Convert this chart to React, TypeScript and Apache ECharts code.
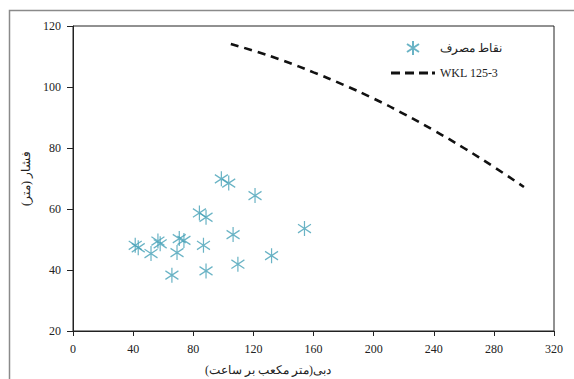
import React, { useEffect, useRef } from "react";
import * as echarts from "echarts";

const pointsX = [41.4, 43.4, 51.9, 56.5, 58, 65.8, 69.2, 70.7, 73.8, 84.1, 86.8, 88.5, 88.5, 98.7, 103.6, 106.5, 109.7, 121.1, 132.1, 154];
const pointsY = [48.1, 47.3, 45.4, 49.5, 48.6, 38.3, 45.7, 50.3, 49.7, 58.7, 48.1, 57.3, 39.7, 69.9, 68.5, 51.6, 41.9, 64.4, 44.7, 53.6];

const curveX = [105, 120, 140, 160, 180, 200, 220, 240, 260, 280, 300];
const curveY = [114.1, 111.9, 108.6, 104.8, 100.7, 96.2, 91.2, 85.8, 80.0, 73.8, 67.2];

const xTicks = [0, 40, 80, 120, 160, 200, 240, 280, 320];
const yTicks = [20, 40, 60, 80, 100, 120];

const seriesNames = ["نقاط مصرف", "WKL 125-3"];
const xTitle = "دبی(متر مکعب بر ساعت)";
const yTitle = "فشار (متر)";

const STAR = "path://M0,-7 L0,7 M-6,-4 L6,4 M-6,4 L6,-4";
const DASHES = "path://M0,0 h9 v3 h-9 z M14,0 h9 v3 h-9 z M28,0 h9 v3 h-9 z M41,0 h3 v3 h-3 z";
const FONT = "Liberation Serif";

export default function App() {
  const ref = useRef<HTMLDivElement>(null);
  useEffect(() => {
    if (!ref.current) return;
    const chart = echarts.init(ref.current, undefined, { renderer: "svg" });
    chart.setOption({
      animation: false,
      backgroundColor: "#fff",
      textStyle: { fontFamily: FONT },
      grid: {
        left: 73,
        right: 20,
        top: 26,
        bottom: 48,
        show: true,
        borderColor: "#222",
        borderWidth: 1,
      },
      xAxis: {
        type: "value",
        min: xTicks[0],
        max: xTicks[xTicks.length - 1],
        interval: 40,
        axisLine: { lineStyle: { color: "#222", width: 1 } },
        axisTick: { show: true, length: 5, lineStyle: { color: "#222" } },
        axisLabel: { color: "#222", fontSize: 12, fontFamily: FONT, margin: 12 },
        splitLine: { show: false },
      },
      yAxis: {
        type: "value",
        min: yTicks[0],
        max: yTicks[yTicks.length - 1],
        interval: 20,
        name: yTitle,
        nameLocation: "middle",
        nameRotate: 90,
        nameGap: 38,
        nameTextStyle: { color: "#222", fontSize: 12, fontFamily: FONT },
        axisLine: { show: true, lineStyle: { color: "#222", width: 1 } },
        axisTick: { show: true, length: 6, lineStyle: { color: "#222" } },
        axisLabel: { color: "#222", fontSize: 12, fontFamily: FONT, margin: 12 },
        splitLine: { show: false },
      },
      legend: {
        orient: "vertical",
        left: 386,
        top: 35,
        itemWidth: 44,
        itemHeight: 14,
        itemGap: 11,
        textStyle: { color: "#222", fontSize: 12, fontFamily: FONT },
        data: [
          { name: seriesNames[0] },
          { name: seriesNames[1], icon: DASHES, itemStyle: { color: "#111" } },
        ],
      },
      graphic: [
        {
          type: "rect",
          left: 7,
          top: 8,
          shape: { width: 600, height: 420 },
          style: { fill: "none", stroke: "#8a8a8a", lineWidth: 1.5 },
          silent: true,
          z: -10,
        },
        {
          type: "text",
          x: 268,
          y: 370,
          style: {
            text: xTitle,
            fill: "#222",
            fontFamily: FONT,
            fontSize: 12,
            align: "center",
            verticalAlign: "middle",
          },
        },
      ],
      series: [
        {
          name: seriesNames[0],
          type: "scatter",
          data: pointsX.map((x, i) => [x, pointsY[i]]),
          symbol: STAR,
          symbolSize: [13, 15],
          itemStyle: { color: "rgba(0,0,0,0)", borderColor: "#45a0b7", borderWidth: 1.3 },
        },
        {
          name: seriesNames[1],
          type: "line",
          data: curveX.map((x, i) => [x, curveY[i]]),
          smooth: true,
          showSymbol: false,
          symbol: "none",
          lineStyle: { color: "#111", width: 2.6, type: [8, 6] },
          itemStyle: { color: "#111" },
        },
      ],
    });
    return () => chart.dispose();
  }, []);
  return (
    <div
      ref={ref}
      style={{ position: "absolute", left: 0, top: 0, width: 574, height: 379 }}
    />
  );
}
